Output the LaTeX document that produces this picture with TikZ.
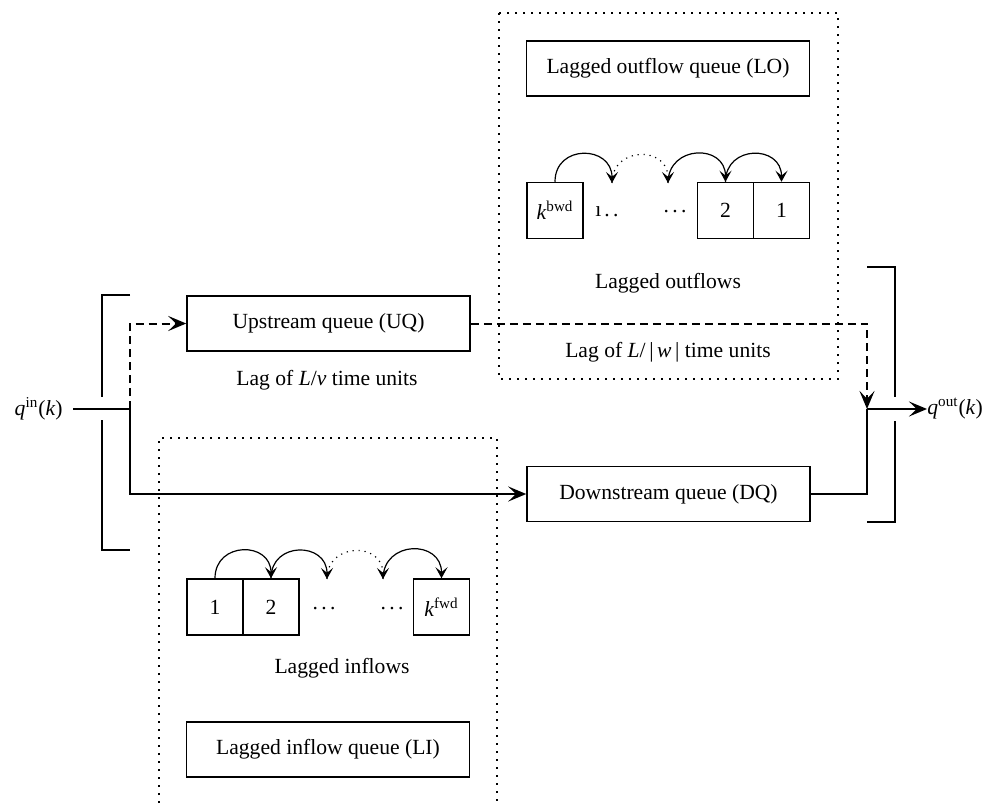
\documentclass[tikz,border=0pt]{standalone}
\usepackage{fontspec}
\setmainfont{Liberation Serif}
\usetikzlibrary{arrows.meta}
\newcommand{\mydots}{.\kern1.7pt.\kern1.7pt.}
\begin{document}
\begin{tikzpicture}[x=0.5pt,y=-0.5pt,
  lbl/.style={inner sep=0pt, font=\fontsize{10.8}{13}\selectfont},
  box/.style={lbl, draw, line width=0.75pt, minimum width=141.5pt, minimum height=27.5pt},
  cell/.style={lbl, draw, line width=0.75pt, minimum size=28pt},
  main/.style={line width=1pt},
  flow/.style={main, -{Stealth[length=9pt,width=7.5pt,inset=3.8pt]}},
  dsh/.style={dash pattern=on 4pt off 2.5pt},
  dotbox/.style={line width=0.9pt, dash pattern=on 0.9pt off 3.1pt},
  hop/.style={line width=0.6pt, -{Stealth[length=5.5pt,width=6pt,inset=2.4pt]}, out=90, in=90, looseness=1.7},
  dhop/.style={hop, dash pattern=on 0.6pt off 2.4pt}
]
\useasboundingbox (0,0) rectangle (984,803);

% dotted groups
\draw[dotbox] (499,13) rectangle (838,379);
\draw[dotbox] (159,803) -- (159,438) -- (497,438) -- (497,803);

% outflow group
\node[box] (LO) at (668,68.5) {Lagged outflow queue (LO)};
\node[cell] (kb) at (555,210.5) {\textit{k}\textsuperscript{bwd}};
\node[lbl] (od1) at (607,212) {{\i}\kern1.5pt.\kern1.7pt.};
\node[lbl] (od2) at (675,212) {\mydots};
\node[cell] (o2) at (725.5,210.5) {2};
\node[cell] (o1) at (781.5,210.5) {1};
\coordinate (oa1) at (612,183);
\coordinate (oa2) at (668,183);
\draw[hop] (kb.north) to (oa1);
\draw[dhop] (oa1) to (oa2);
\draw[hop] (oa2) to (o2.north);
\draw[hop] (o2.north) to (o1.north);
\node[lbl] (lof) at (668,283) {Lagged outflows};
\node[lbl] (lagw) at (668,352) {Lag of \textit{L}/\,|\,\textit{w}\,| time units};

% inflow group
\node[lbl] (lagv) at (327,380) {Lag of \textit{L}/\textit{v} time units};
\node[cell] (i1) at (215,607) {1};
\node[cell] (i2) at (271,607) {2};
\node[lbl] (id1) at (324,609) {\mydots};
\node[lbl] (id2) at (392,609) {\mydots};
\node[cell] (kf) at (441.5,607) {\textit{k}\textsuperscript{fwd}};
\coordinate (ia1) at (327,579);
\coordinate (ia2) at (383,579);
\draw[hop] (i1.north) to (i2.north);
\draw[hop] (i2.north) to (ia1);
\draw[dhop] (ia1) to (ia2);
\draw[hop] (ia2) to (kf.north);
\node[lbl] (lif) at (342,668) {Lagged inflows};
\node[box] (LI) at (328,749.5) {Lagged inflow queue (LI)};

% queues
\node[box] (UQ) at (328.5,323.5) {Upstream queue (UQ)};
\node[box] (DQ) at (668.5,494) {Downstream queue (DQ)};

% input side
\node[lbl, anchor=east] (qin) at (63,409) {\textit{q}\textsuperscript{in}(\textit{k})};
\coordinate (qs) at (73,409);
\coordinate (jin) at (130,409);
\draw[main] (qs) -- (jin);
\draw[flow, dsh] (jin) |- (UQ.west);
\draw[flow] (jin) |- (DQ.west);
\draw[main] (130,295) -- (102,295) -- (102,397);
\draw[main] (102,420) -- (102,550) -- (130,550);

% output side
\coordinate (jout) at (867,409);
\node[lbl, anchor=west] (qout) at (927,409) {\textit{q}\textsuperscript{out}(\textit{k})};
\draw[flow, dsh] (UQ.east) -| (jout);
\draw[main] (DQ.east) -| (jout);
\draw[flow] (jout) -- (qout.west);
\draw[main] (867,267) -- (895,267) -- (895,397);
\draw[main] (895,421) -- (895,522) -- (867,522);
\end{tikzpicture}
\end{document}
